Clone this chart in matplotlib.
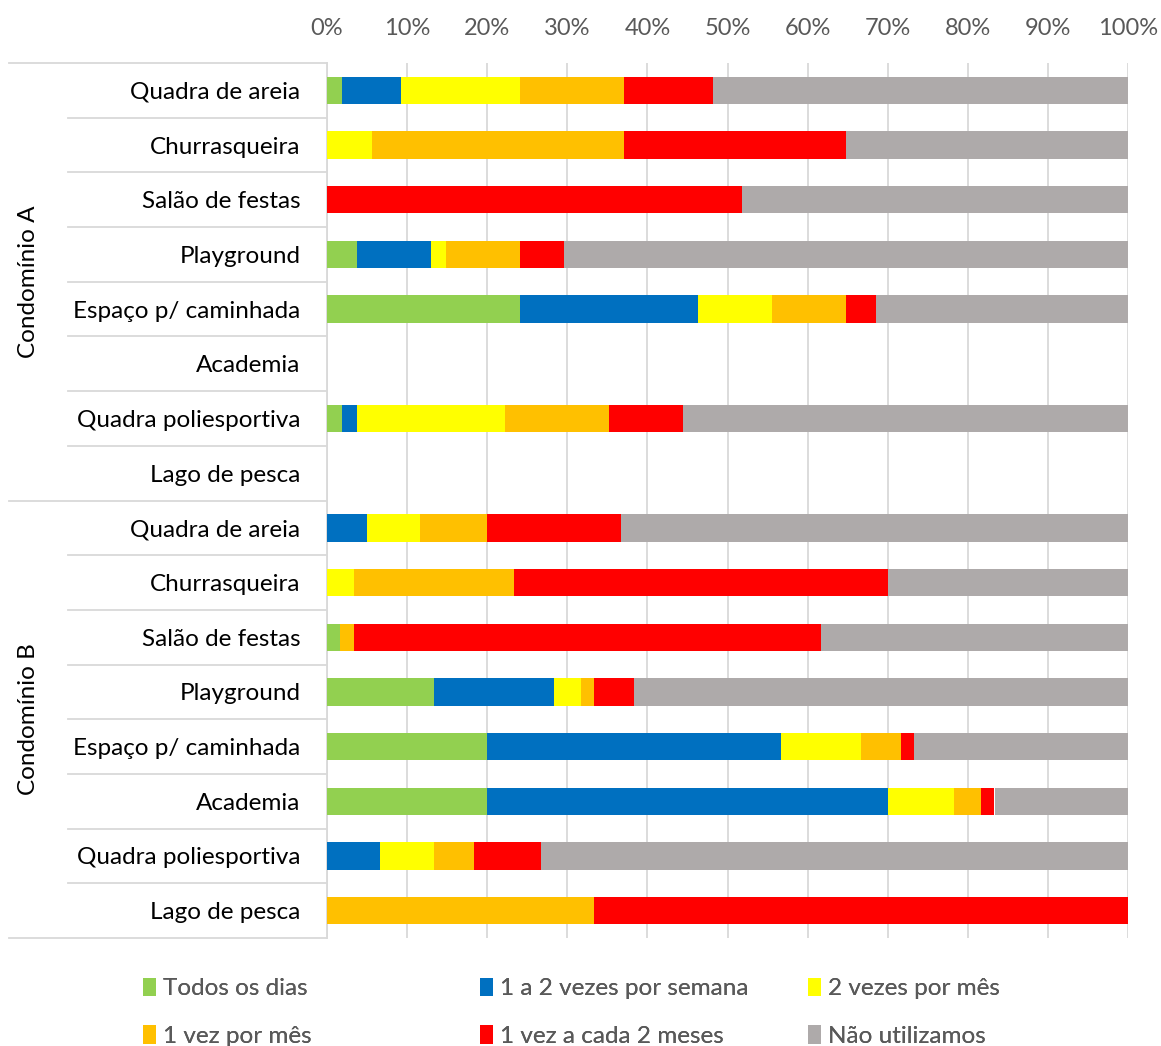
import matplotlib
matplotlib.use("Agg")
import matplotlib.pyplot as plt
import numpy as np

plt.rcParams["font.family"] = ["Lato", "DejaVu Sans"]

PLACES = ["Quadra de areia", "Churrasqueira", "Salão de festas", "Playground",
          "Espaço p/ caminhada", "Academia", "Quadra poliesportiva", "Lago de pesca"]
GROUPS = ["Condomínio A", "Condomínio B"]
SERIES = ["Todos os dias", "1 a 2 vezes por semana", "2 vezes por mês",
          "1 vez por mês", "1 vez a cada 2 meses", "Não utilizamos"]
COLORS = ["#92D050", "#0070C0", "#FFFF00", "#FFC000", "#FF0000", "#AEAAAA"]

# counts per place, order = SERIES; A has 54 answers, B has 60
COND_A = [
    [1, 4, 8, 7, 6, 28],
    [0, 0, 3, 17, 15, 19],
    [0, 0, 0, 0, 28, 26],
    [2, 5, 1, 5, 3, 38],
    [13, 12, 5, 5, 2, 17],
    [0, 0, 0, 0, 0, 0],
    [1, 1, 10, 7, 5, 30],
    [0, 0, 0, 0, 0, 0],
]
COND_B = [
    [0, 3, 4, 5, 10, 38],
    [0, 0, 2, 12, 28, 18],
    [1, 0, 0, 1, 35, 23],
    [8, 9, 2, 1, 3, 37],
    [12, 22, 6, 3, 1, 16],
    [12, 30, 5, 2, 1, 10],
    [0, 4, 4, 3, 5, 44],
    [0, 0, 0, 20, 40, 0],
]
TOTAL_A = 54
TOTAL_B = 60

pct = np.vstack([np.array(COND_A) / TOTAL_A * 100, np.array(COND_B) / TOTAL_B * 100])
labels = PLACES + PLACES
n = len(labels)
y = np.arange(n)

FS = 17.5

fig = plt.figure(figsize=(11.61, 10.46), dpi=100)
ax = fig.add_axes([327 / 1161, 1 - 938 / 1046, 801 / 1161, 875 / 1046])

left = np.zeros(n)
handles = []
for k, (name, col) in enumerate(zip(SERIES, COLORS)):
    h = ax.barh(y, pct[:, k], left=left, height=0.5, color=col, label=name, zorder=3)
    handles.append(h)
    left += pct[:, k]

ax.set_xlim(0, 100)
ax.set_ylim(n - 0.5, -0.5)
ax.set_xticks(np.arange(0, 101, 10))
ax.set_xticklabels([f"{v}%" for v in range(0, 101, 10)])
ax.xaxis.tick_top()
ax.tick_params(axis="x", length=0, pad=17, labelsize=17, labelcolor="#595959")
ax.set_yticks(y)
ax.set_yticklabels(labels)
ax.tick_params(axis="y", length=0, pad=19, labelsize=FS, labelcolor="black")
ax.grid(axis="x", color="#D9D9D9", linewidth=1.3, zorder=0)
for s in ["top", "right", "bottom"]:
    ax.spines[s].set_visible(False)
ax.spines["left"].set_color("#D9D9D9")
ax.spines["left"].set_linewidth(1.3)

# separator lines in the label area
trans = ax.get_yaxis_transform()
for b in np.arange(-0.5, n, 1.0):
    x0 = -318 / 801 if b in (-0.5, 7.5, n - 0.5) else -259 / 801
    ax.plot([x0, 0], [b, b], transform=trans, color="#D9D9D9", linewidth=1.3,
            clip_on=False, zorder=1)

for g, name in enumerate(GROUPS):
    ax.text(-298 / 801, 3.5 + 8 * g, name, transform=trans, rotation=90,
            ha="center", va="center", fontsize=FS)

# legend: three columns, two rows
col_x = [133 / 1161, 470 / 1161, 798 / 1161]
for c in range(3):
    leg = fig.legend([handles[c], handles[c + 3]], [SERIES[c], SERIES[c + 3]],
                     loc="upper left", bbox_to_anchor=(col_x[c], 1 - 968 / 1046),
                     frameon=False, fontsize=FS, labelcolor="#595959",
                     handlelength=0.55, handleheight=0.8, handletextpad=0.3,
                     labelspacing=1.05, borderaxespad=0)
    fig.add_artist(leg)

fig.savefig("out.png")
